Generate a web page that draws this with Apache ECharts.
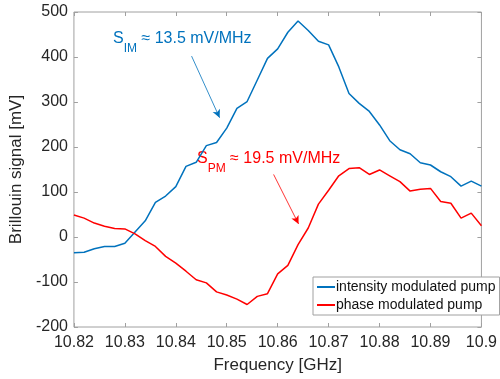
<!DOCTYPE html>
<html>
<head>
<meta charset="utf-8">
<script src="https://cdn.jsdelivr.net/npm/echarts@6/dist/echarts.min.js"></script>
<style>
  html, body { margin: 0; padding: 0; background: #fff; }
  #chart { width: 500px; height: 379px; }
</style>
</head>
<body>
<div id="chart"></div>
<script>
// frequency axis [GHz]
var freq = [10.820, 10.822, 10.824, 10.826, 10.828, 10.830, 10.832, 10.834, 10.836, 10.838,
            10.840, 10.842, 10.844, 10.846, 10.848, 10.850, 10.852, 10.854, 10.856, 10.858,
            10.860, 10.862, 10.864, 10.866, 10.868, 10.870, 10.872, 10.874, 10.876, 10.878,
            10.880, 10.882, 10.884, 10.886, 10.888, 10.890, 10.892, 10.894, 10.896, 10.898,
            10.900];

// Brillouin signal [mV]
var intensityPump = [-35, -34, -26, -21, -21, -14, 11, 36, 77, 91,
                     112, 157, 166, 203, 210, 242, 286, 301, 349, 397,
                     418, 455, 480, 459, 435, 427, 378, 319, 297, 279,
                     249, 214, 194, 185, 165, 160, 145, 134, 113, 124,
                     113];
var phasePump = [49, 42, 31, 24, 19, 18, 7, -8, -21, -43,
                 -58, -76, -95, -102, -122, -129, -138, -150, -132, -126,
                 -82, -63, -17, 20, 73, 104, 136, 152, 154, 139,
                 149, 136, 123, 102, 106, 108, 79, 75, 42, 53,
                 25];

var seriesNames = ['intensity modulated pump', 'phase modulated pump'];
var xTicks = [10.82, 10.83, 10.84, 10.85, 10.86, 10.87, 10.88, 10.89, 10.9];
var yTicks = [-200, -100, 0, 100, 200, 300, 400, 500];

// annotation arrows (data coords)
var imArrow = [[10.8431, 402], [10.8486, 265]];
var pmArrow = [[10.8592, 139], [10.8641, 29]];

var blue = '#0072BD';
var red = '#FF0000';
var axisGray = '#a0a0a0';
var textColor = '#262626';
var font = '"Liberation Sans", Arial, Helvetica, sans-serif';

var chart = echarts.init(document.getElementById('chart'));

function pairs(vals) {
    return freq.map(function (f, i) { return [f, vals[i]]; });
}

var baseX = {
    type: 'value',
    min: xTicks[0],
    max: xTicks[xTicks.length - 1],
    interval: 0.01,
    splitLine: { show: false },
    axisLine: { show: false, onZero: false },
    axisTick: { show: true, inside: true, length: 4, lineStyle: { color: axisGray } }
};
var baseY = {
    type: 'value',
    min: yTicks[0],
    max: yTicks[yTicks.length - 1],
    interval: 100,
    splitLine: { show: false },
    axisLine: { show: false, onZero: false },
    axisTick: { show: true, inside: true, length: 4, lineStyle: { color: axisGray } }
};

var options = {
    animation: false,
    textStyle: { fontFamily: font },
    grid: {
        left: 64, right: 17, top: 12, bottom: 51,
        show: true,
        borderColor: axisGray,
        borderWidth: 1,
        backgroundColor: 'transparent'
    },
    legend: {
        orient: 'vertical',
        left: 313,
        top: 277,
        width: 186,
        padding: [3, 4, 3, 4],
        itemGap: 4,
        itemWidth: 18,
        itemHeight: 2,
        backgroundColor: '#fff',
        borderColor: axisGray,
        borderWidth: 1,
        borderRadius: 0,
        textStyle: { fontSize: 14, color: '#111', fontFamily: font, padding: [0, 0, 0, -4] },
        data: [
            { name: seriesNames[0], icon: 'rect' },
            { name: seriesNames[1], icon: 'rect' }
        ]
    },
    xAxis: [
        Object.assign({}, baseX, {
            position: 'bottom',
            name: 'Frequency [GHz]',
            nameLocation: 'middle',
            nameGap: 30,
            nameTextStyle: { fontSize: 17, color: textColor, fontFamily: font },
            axisLabel: {
                margin: 8, fontSize: 16, color: textColor, fontFamily: font,
                formatter: function (v) { return String(parseFloat(v.toFixed(3))); }
            }
        }),
        Object.assign({}, baseX, { position: 'top', axisLabel: { show: false } })
    ],
    yAxis: [
        Object.assign({}, baseY, {
            position: 'left',
            name: 'Brillouin signal [mV]',
            nameLocation: 'middle',
            nameGap: 40,
            nameTextStyle: { fontSize: 17, color: textColor, fontFamily: font },
            axisLabel: { margin: 6, fontSize: 16, color: textColor, fontFamily: font }
        }),
        Object.assign({}, baseY, { position: 'right', axisLabel: { show: false } })
    ],
    series: [
        {
            name: seriesNames[0],
            type: 'line',
            data: pairs(intensityPump),
            showSymbol: false,
            symbol: 'none',
            color: blue,
            lineStyle: { color: blue, width: 1.5 },
            markLine: {
                silent: true,
                symbol: ['none', 'arrow'],
                symbolSize: [6, 8],
                label: { show: false },
                lineStyle: { color: blue, width: 0.8, type: 'solid' },
                data: [[{ coord: imArrow[0] }, { coord: imArrow[1] }]]
            }
        },
        {
            name: seriesNames[1],
            type: 'line',
            data: pairs(phasePump),
            showSymbol: false,
            symbol: 'none',
            color: red,
            lineStyle: { color: red, width: 1.5 },
            markLine: {
                silent: true,
                symbol: ['none', 'arrow'],
                symbolSize: [6, 8],
                label: { show: false },
                lineStyle: { color: red, width: 0.8, type: 'solid' },
                data: [[{ coord: pmArrow[0] }, { coord: pmArrow[1] }]]
            }
        }
    ],
    graphic: [
        {
            type: 'text',
            left: 113,
            top: 31,
            style: {
                text: '{m|S}{s|IM}{m| \u2248 13.5 mV/MHz}',
                fill: blue,
                rich: {
                    m: { fontSize: 16, fontFamily: font, fill: blue, lineHeight: 22, verticalAlign: 'top' },
                    s: { fontSize: 12, fontFamily: font, fill: blue, lineHeight: 22, padding: [12, 0, 0, 0], verticalAlign: 'top' }
                }
            }
        },
        {
            type: 'text',
            left: 197,
            top: 151,
            style: {
                text: '{m|S}{s|PM}{m| \u2248 19.5 mV/MHz}',
                fill: red,
                rich: {
                    m: { fontSize: 16, fontFamily: font, fill: red, lineHeight: 22, verticalAlign: 'top' },
                    s: { fontSize: 12, fontFamily: font, fill: red, lineHeight: 22, padding: [12, 0, 0, 0], verticalAlign: 'top' }
                }
            }
        }
    ]
};

chart.setOption(options);
</script>
</body>
</html>
